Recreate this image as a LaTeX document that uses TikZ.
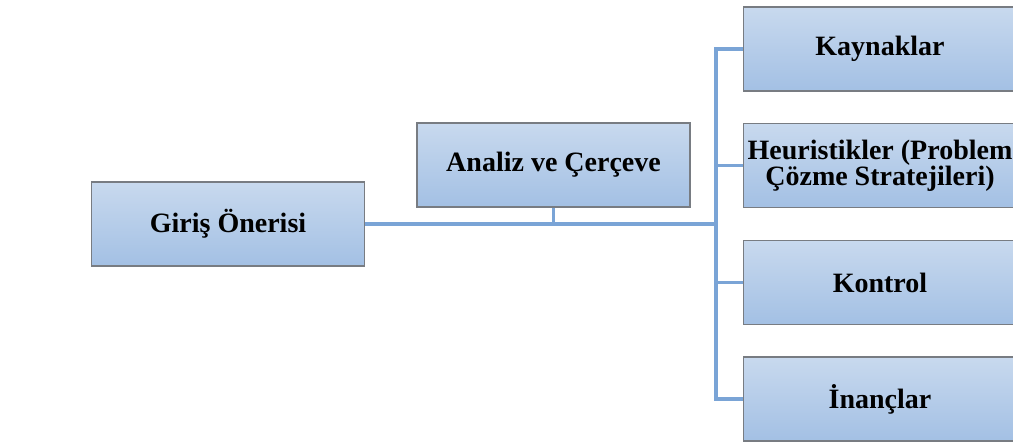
\documentclass[tikz,border=0pt]{standalone}
\usepackage{fontspec}
\setmainfont{Liberation Serif}
\usepackage{xcolor}
\definecolor{boxtop}{RGB}{200,217,238}
\definecolor{boxbot}{RGB}{163,192,228}
\definecolor{boxline}{RGB}{120,124,130}
\definecolor{linkblue}{RGB}{122,164,214}

\begin{document}
\begin{tikzpicture}[x=0.75pt,y=-0.75pt]
\useasboundingbox (0,0) rectangle (1013,443);
\begin{scope}[every node/.style={rectangle,draw=boxline,line width=0.8pt,top color=boxtop,bottom color=boxbot,minimum width=204.75pt,minimum height=63pt,inner sep=0pt,align=center,font=\fontsize{21}{19.5}\selectfont\bfseries}]
\node (giris) at (228,224) {Giriş Önerisi};
\node (analiz) at (553.5,165) {Analiz ve Çerçeve};
\node (kaynak) at (880,49) {Kaynaklar};
\node (heur) at (880,165.5) {Heuristikler (Problem\\Çözme Stratejileri)};
\node (kontrol) at (880,282.5) {Kontrol};
\node (inanc) at (880,399) {İnançlar};
\end{scope}

\coordinate (bus) at (716,224);

\draw[line width=2.4pt, linkblue] (giris.east) -- (bus);
\draw[line width=2.4pt, linkblue] (analiz.south) -- (analiz.south |- bus);
\draw[line width=2.4pt, linkblue] (kaynak.west) -- (kaynak.west -| bus) -- (inanc.west -| bus) -- (inanc.west);
\draw[line width=2.4pt, linkblue] (heur.west) -- (heur.west -| bus);
\draw[line width=2.4pt, linkblue] (kontrol.west) -- (kontrol.west -| bus);
\end{tikzpicture}
\end{document}
